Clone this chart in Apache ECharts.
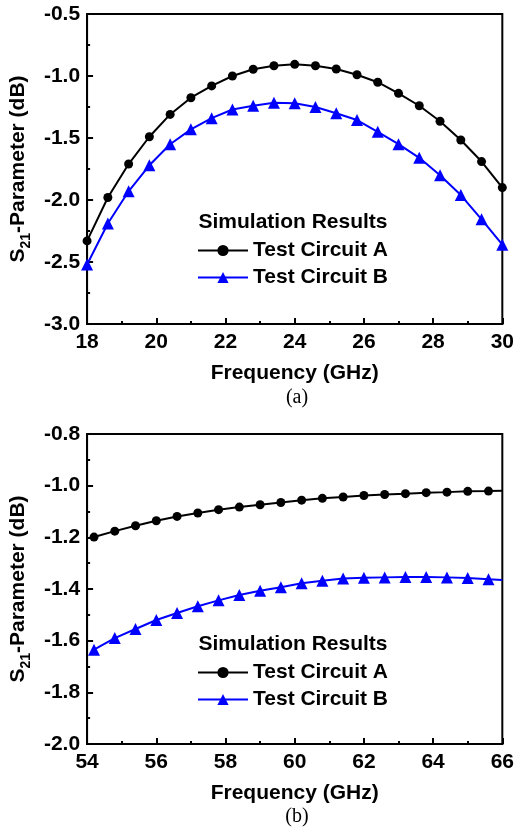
<!DOCTYPE html>
<html>
<head>
<meta charset="utf-8">
<script src="https://cdn.jsdelivr.net/npm/echarts@6/dist/echarts.min.js"></script>
<style>
  html, body { margin: 0; padding: 0; background: #fff; }
  #chart { width: 517px; height: 828px; }
</style>
</head>
<body>
<div id="chart"></div>
<script>
// (a) 18-30 GHz
var freqA = [18, 18.6, 19.2, 19.8, 20.4, 21, 21.6, 22.2, 22.8, 23.4, 24, 24.6, 25.2, 25.8, 26.4, 27, 27.6, 28.2, 28.8, 29.4, 30];
var circuitA_a = [-2.33, -1.98, -1.71, -1.49, -1.31, -1.175, -1.08, -1.0, -0.946, -0.917, -0.906, -0.917, -0.944, -0.99, -1.05, -1.14, -1.24, -1.365, -1.516, -1.69, -1.90];
var circuitB_a = [-2.52, -2.19, -1.93, -1.72, -1.55, -1.43, -1.34, -1.27, -1.24, -1.215, -1.22, -1.25, -1.30, -1.355, -1.45, -1.55, -1.66, -1.80, -1.96, -2.156, -2.36];

// (b) 54-66 GHz, last point is the line end without a marker
var freqB = [54.2, 54.8, 55.4, 56, 56.6, 57.2, 57.8, 58.4, 59, 59.6, 60.2, 60.8, 61.4, 62, 62.6, 63.2, 63.8, 64.4, 65, 65.6, 66];
var circuitA_b = [-1.199, -1.176, -1.155, -1.136, -1.119, -1.106, -1.093, -1.083, -1.074, -1.065, -1.056, -1.049, -1.044, -1.038, -1.034, -1.031, -1.027, -1.025, -1.022, -1.021, -1.02];
var circuitB_b = [-1.635, -1.59, -1.555, -1.52, -1.493, -1.467, -1.444, -1.423, -1.407, -1.393, -1.378, -1.368, -1.359, -1.356, -1.355, -1.354, -1.354, -1.355, -1.357, -1.362, -1.365];

var seriesNames = ['Test Circuit A', 'Test Circuit B'];
var legendTitle = 'Simulation Results';
var xName = 'Frequency (GHz)';

var font = 'Liberation Sans, Arial, sans-serif';
var blue = '#0000ff';

function pairs(xs, ys, lastBare) {
  return ys.map(function (v, i) {
    if (lastBare && i === ys.length - 1) return { value: [xs[i], v], symbol: 'none' };
    return [xs[i], v];
  });
}

function xAxis(idx, min, max) {
  return {
    type: 'value', gridIndex: idx, min: min, max: max, interval: 2,
    name: xName, nameLocation: 'middle', nameGap: 39,
    nameTextStyle: { fontFamily: font, fontWeight: 'bold', fontSize: 21, color: '#000' },
    axisLine: { onZero: false, lineStyle: { color: '#000', width: 2 } },
    axisTick: { inside: true, length: 6, lineStyle: { color: '#000', width: 2 } },
    minorTick: { show: true, splitNumber: 2, length: 3, lineStyle: { color: '#000', width: 2 } },
    axisLabel: { margin: 8, fontFamily: font, fontWeight: 'bold', fontSize: 21, color: '#000' },
    splitLine: { show: false }
  };
}

function yAxis(idx, min, max, step) {
  return {
    type: 'value', gridIndex: idx, min: min, max: max, interval: step,
    name: '{n|S}{s|21}{n|-Parameter (dB)}', nameLocation: 'middle', nameGap: 52,
    nameTextStyle: {
      rich: {
        n: { fontFamily: font, fontWeight: 'bold', fontSize: 21, color: '#000' },
        s: { fontFamily: font, fontWeight: 'bold', fontSize: 14, color: '#000', verticalAlign: 'bottom', padding: [0, 0, -4, 0] }
      }
    },
    axisLine: { onZero: false, lineStyle: { color: '#000', width: 2 } },
    axisTick: { inside: true, length: 6, lineStyle: { color: '#000', width: 2 } },
    minorTick: { show: true, splitNumber: 2, length: 3, lineStyle: { color: '#000', width: 2 } },
    axisLabel: {
      margin: 7, fontFamily: font, fontWeight: 'bold', fontSize: 21, color: '#000',
      formatter: function (v) { return v.toFixed(1); }
    },
    splitLine: { show: false }
  };
}

function lineSeries(name, idx, data, isB) {
  return {
    name: name, type: 'line', xAxisIndex: idx, yAxisIndex: idx,
    data: data,
    symbol: isB ? 'triangle' : 'circle',
    symbolSize: isB ? 12 : 9,
    showAllSymbol: true,
    lineStyle: { color: isB ? blue : '#000', width: 2 },
    itemStyle: { color: isB ? blue : '#000' },
    z: isB ? 3 : 4
  };
}

function legend(top) {
  return {
    data: seriesNames, orient: 'vertical', left: 197, top: top, padding: 0,
    itemWidth: 50, itemHeight: 14, itemGap: 6,
    selectedMode: false,
    textStyle: { fontFamily: font, fontWeight: 'bold', fontSize: 21, color: '#000' }
  };
}

var titleText = { fontFamily: font, fontWeight: 'bold', fontSize: 21, color: '#000' };
var captionText = { fontFamily: 'Liberation Serif, Times New Roman, serif', fontWeight: 'normal', fontSize: 20, color: '#000' };

var option = {
  animation: false,
  title: [
    { text: legendTitle, left: 293, top: 212, padding: 0, textAlign: 'center', textStyle: titleText },
    { text: '(a)', left: 297, top: 388, padding: 0, textAlign: 'center', textStyle: captionText },
    { text: legendTitle, left: 293, top: 634, padding: 0, textAlign: 'center', textStyle: titleText },
    { text: '(b)', left: 297, top: 807, padding: 0, textAlign: 'center', textStyle: captionText }
  ],
  legend: [legend(240), legend(662)],
  grid: [
    { left: 87, top: 14, width: 419, height: 310, show: true, borderColor: '#000', borderWidth: 2 },
    { left: 87, top: 434, width: 419, height: 310, show: true, borderColor: '#000', borderWidth: 2 }
  ],
  xAxis: [xAxis(0, 18, 30), xAxis(1, 54, 66)],
  yAxis: [yAxis(0, -3, -0.5, 0.5), yAxis(1, -2, -0.8, 0.2)],
  series: [
    lineSeries(seriesNames[0], 0, pairs(freqA, circuitA_a, false), false),
    lineSeries(seriesNames[1], 0, pairs(freqA, circuitB_a, false), true),
    lineSeries(seriesNames[0], 1, pairs(freqB, circuitA_b, true), false),
    lineSeries(seriesNames[1], 1, pairs(freqB, circuitB_b, true), true)
  ]
};

var chart = echarts.init(document.getElementById('chart'));
chart.setOption(option);
</script>
</body>
</html>
